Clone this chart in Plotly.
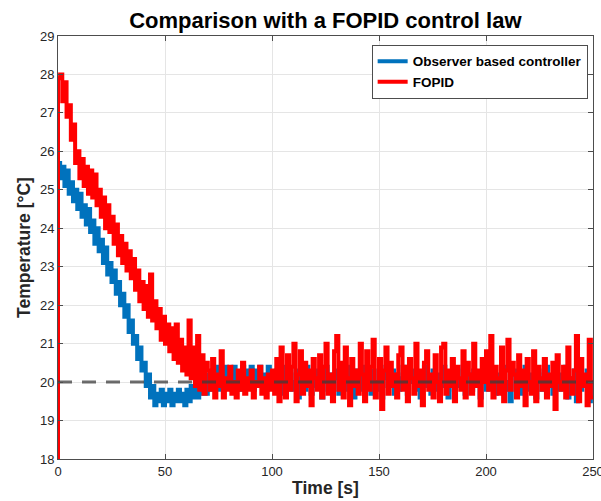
import plotly.graph_objects as go

# time grid (s)
time_s = list(range(0, 251))

# Observer based controller (blue)
observer_temp = [
    24.9,
    25.7, 25.3, 25.6, 25.1, 25.5, 24.9, 25.2, 24.7, 25.0, 24.5,
    24.9, 24.3, 24.6, 24.1, 24.5, 23.9, 24.2, 23.6, 24.0, 23.4,
    23.7, 23.1, 23.5, 22.8, 23.1, 22.6, 22.9, 22.3, 22.6, 22.0,
    22.3, 21.7, 22.0, 21.3, 21.6, 21.0, 21.2, 20.6, 20.9, 20.3,
    20.5, 19.9, 20.2, 19.6, 19.9, 19.4, 19.7, 19.5, 19.8, 19.4,
    19.7, 19.5, 19.8, 19.4, 19.7, 19.5, 19.8, 19.5, 19.7, 19.4,
    19.8, 19.5, 19.9, 19.6, 20.0, 19.6, 19.9, 19.7, 20.1, 19.7,
    20.2, 19.8, 20.3, 19.9, 20.4, 19.8, 20.2, 19.9, 20.4, 20.0,
    20.3, 19.8, 20.4, 20.0, 20.2, 19.8, 20.4, 19.9, 20.3, 20.0,
    20.4, 19.8, 20.3, 20.0, 20.4, 19.9, 20.2, 19.8, 20.4, 20.0,
    20.2, 19.8, 20.3, 20.0, 19.7, 20.1, 20.4, 19.9, 20.2, 19.8,
    20.0, 20.3, 19.6, 20.1, 20.2, 19.8, 20.4, 20.0, 19.7, 20.2,
    19.9, 20.3, 20.1, 19.6, 20.0, 20.4, 19.8, 20.2, 19.9, 20.1,
    20.3, 19.7, 20.0, 20.2, 19.8, 20.4, 19.9, 20.1, 19.6, 20.3,
    20.0, 19.8, 20.2, 20.4, 19.9, 20.1, 19.7, 20.3, 20.0, 19.8,
    20.2, 19.6, 20.1, 20.4, 19.9, 20.0, 20.3, 19.7, 20.2, 19.8,
    20.1, 20.4, 19.9, 19.7, 20.2, 20.0, 20.3, 19.8, 20.1, 19.6,
    20.2, 20.4, 19.9, 20.0, 19.7, 20.3, 20.1, 19.8, 20.2, 19.9,
    20.4, 20.0, 19.6, 20.2, 20.1, 19.8, 20.3, 19.9, 20.0, 20.4,
    19.7, 20.1, 20.2, 19.8, 20.3, 19.9, 20.0, 19.6, 20.2, 20.4,
    19.8, 20.1, 20.0, 20.3, 19.7, 20.2, 19.9, 20.1, 20.4, 19.8,
    20.0, 19.5, 20.2, 20.3, 19.9, 20.1, 19.7, 20.0, 20.4, 19.8,
    20.2, 19.9, 20.1, 19.6, 20.3, 20.0, 19.8, 20.2, 20.4, 19.9,
    20.1, 19.7, 20.3, 20.0, 19.8, 20.2, 19.9, 20.4, 19.6, 20.1,
    20.0, 20.3, 19.5, 20.2, 19.8, 20.1, 19.9, 20.3, 19.5, 20.0,
]

# FOPID (red)
fopid_temp = [
    18.0,
    27.9, 28.0, 27.3, 27.8, 26.9, 27.2, 26.3, 26.7, 25.7, 26.0,
    25.3, 25.8, 25.1, 25.6, 24.9, 25.5, 24.8, 25.4, 24.6, 25.0,
    24.3, 24.8, 24.0, 24.6, 23.9, 24.3, 23.6, 24.1, 23.3, 23.8,
    23.1, 23.6, 22.9, 23.4, 22.7, 23.2, 22.4, 22.9, 22.1, 22.6,
    21.9, 22.5, 21.7, 22.8, 21.6, 22.1, 21.4, 21.9, 21.1, 21.7,
    21.0, 21.5, 20.8, 21.4, 20.6, 21.5, 20.5, 21.1, 20.3, 20.9,
    20.2, 21.6, 20.1, 20.9, 19.9, 21.2, 19.8, 20.7, 19.7, 20.5,
    20.3, 19.8, 20.6, 19.6, 20.2, 19.9, 20.8, 19.6, 20.1, 19.8,
    20.4, 19.7, 20.0, 19.6, 20.3, 19.8, 20.5, 19.7, 20.1, 19.8,
    20.3, 19.6, 20.0, 19.9, 20.4, 19.7, 20.1, 19.6, 20.2, 19.8,
    20.3, 19.7, 20.6, 19.5, 20.9, 20.0, 19.6, 20.7, 19.8, 20.4,
    21.0, 19.5, 20.2, 20.8, 19.7, 20.5, 19.9, 20.3, 19.4, 20.6,
    20.1, 19.8, 20.7, 19.6, 20.4, 21.0, 19.7, 20.2, 19.5, 20.8,
    21.2, 19.8, 20.5, 19.6, 20.9, 20.1, 19.4, 20.6, 19.9, 20.3,
    19.7, 21.0, 20.2, 19.5, 20.8, 19.8, 20.4, 21.1, 19.6, 20.0,
    20.6, 19.3, 20.3, 20.9, 19.7, 20.5, 19.9, 20.2, 19.6, 20.7,
    20.9, 19.8, 20.4, 19.5, 20.6, 20.1, 19.7, 21.0, 19.9, 20.3,
    19.4, 20.5, 20.8, 19.8, 20.2, 19.6, 20.7, 20.0, 19.5, 20.9,
    21.0, 19.7, 20.3, 19.9, 20.6, 19.5, 20.4, 20.1, 19.8, 20.8,
    19.6, 20.5, 20.2, 19.7, 21.0, 19.9, 20.3, 19.4, 20.6, 20.0,
    20.8, 19.8, 21.2, 19.6, 20.4, 20.1, 19.7, 20.9, 19.5, 20.3,
    21.1, 19.8, 20.5, 20.2, 19.6, 20.7, 19.9, 20.3, 19.4, 20.6,
    20.0, 19.7, 20.8, 19.5, 20.4, 20.1, 19.8, 20.6, 19.6, 20.2,
    19.9, 20.5, 19.3, 20.7, 20.0, 19.8, 20.4, 19.6, 20.9, 20.1,
    19.7, 20.3, 21.2, 19.5, 20.6, 19.9, 20.2, 19.4, 21.1, 19.6,
]

setpoint = 20.0
x_ticks = [0, 50, 100, 150, 200, 250]
y_ticks = list(range(18, 30))

FONT = "Liberation Sans, Arial, Helvetica, sans-serif"
AXC = "#262626"

fig = go.Figure()
fig.add_trace(go.Scatter(
    x=time_s, y=observer_temp, mode="lines", line_shape="vh",
    line=dict(color="#0072BD", width=4), name="<b>Observer based controller</b>"))
fig.add_trace(go.Scatter(
    x=time_s, y=fopid_temp, mode="lines", line_shape="vh",
    line=dict(color="#FF0000", width=4), name="<b>FOPID</b>"))
fig.add_trace(go.Scatter(
    x=[time_s[0], time_s[-1]], y=[setpoint, setpoint], mode="lines",
    line=dict(color="rgba(60,60,60,0.75)", width=3, dash="14px,10px"),
    showlegend=False, hoverinfo="skip"))

axis_common = dict(
    showline=True, linecolor="#4d4d4d", linewidth=1, mirror="allticks",
    ticks="inside", ticklen=5, tickcolor="#4d4d4d", automargin=False,
    showgrid=True, gridcolor="#e5e5e5", gridwidth=1, zeroline=False,
    tickfont=dict(family=FONT, size=13, color=AXC),
)

fig.update_layout(
    width=601, height=501,
    margin=dict(l=58, r=8, t=36, b=42, autoexpand=False),
    paper_bgcolor="white", plot_bgcolor="white",
    title=dict(text="<b>Comparison with a FOPID control law</b>",
               x=0.5413, xanchor="center", y=0.96, yanchor="middle",
               font=dict(family=FONT, size=22, color="#000000")),
    xaxis=dict(range=[0, 250], tickvals=x_ticks, ticklabeloverflow="allow",
               title=dict(text="<b>Time [s]</b>", standoff=4,
                          font=dict(family=FONT, size=17.5, color=AXC)),
               **axis_common),
    yaxis=dict(range=[18, 29], tickvals=y_ticks,
               title=dict(text="<b>Temperature [°C]</b>", standoff=4,
                          font=dict(family=FONT, size=17.5, color=AXC)),
               **axis_common),
    legend=dict(x=0.99, y=0.979, xanchor="right", yanchor="top",
                bgcolor="white", bordercolor="#4d4d4d", borderwidth=1,
                font=dict(family=FONT, size=13.5, color="#000000"),
                tracegroupgap=0, itemwidth=30),
    showlegend=True,
)

fig.write_html("out.html")
